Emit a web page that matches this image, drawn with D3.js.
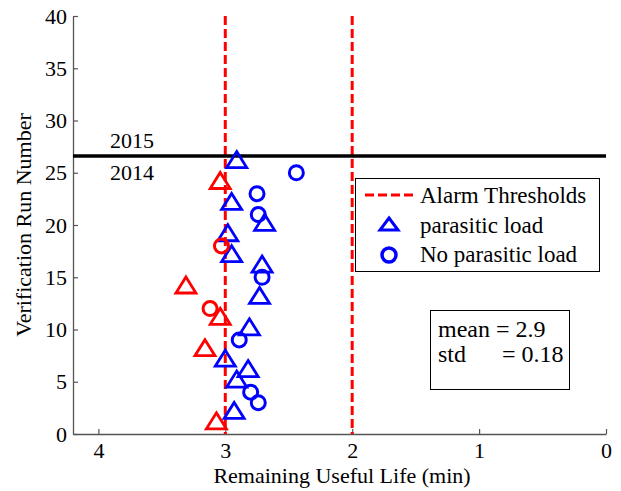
<!DOCTYPE html>
<html><head><meta charset="utf-8">
<script src="https://cdn.jsdelivr.net/npm/d3@7"></script>
</head><body style="margin:0;background:#fff"><svg id="c" width="621" height="491"></svg>
<script>
// Data
const redTriangles = [[3.07,1],[3.16,8],[3.04,11],[3.31,14],[3.04,24]];
const redCircles = [[3.12,12],[3.03,18]];
const blueTriangles = [[2.93,2],[2.91,5],[2.82,6],[3.0,7],[2.81,10],[2.73,13],[2.71,16],[2.95,17],[2.98,19],[2.69,20],[2.95,22],[2.91,26]];
const blueCircles = [[2.74,3],[2.80,4],[2.89,9],[2.71,15],[2.74,21],[2.75,23],[2.44,25]];
const thresholds = [3, 2];
const yearDivide = 26.6;
const xTicks = [4,3,2,1,0];
const yTicks = [0,5,10,15,20,25,30,35,40];
const legendLabels = ["Alarm Thresholds","parasitic load","No parasitic load"];
const statsLines = ["mean = 2.9","std      = 0.18"];

const FONT = "'Liberation Serif'";
const svg = d3.select("#c");
const L=73,R=606,T=16,B=434;
const x = d3.scaleLinear().domain([4.2,0]).range([L,R]);
const y = d3.scaleLinear().domain([0,40]).range([B,T]);
const FS = 22, LFS = 23, SFS = 24;

// axes
const xa = svg.append("g").attr("transform",`translate(0,${B})`)
  .call(d3.axisBottom(x).tickValues(xTicks).tickFormat(d3.format("d")).tickSize(-5).tickPadding(8).tickSizeOuter(0));
const ya = svg.append("g").attr("transform",`translate(${L},0)`)
  .call(d3.axisLeft(y).tickValues(yTicks).tickFormat(d3.format("d")).tickSize(-5).tickPadding(6).tickSizeOuter(0));
[xa,ya].forEach(a=>{a.attr("font-family",null).attr("font-size",null);
  a.select(".domain").attr("stroke","#555").attr("stroke-width",1.3);
  a.selectAll(".tick line").attr("stroke","#555").attr("stroke-width",1.2);
  a.selectAll(".tick text").attr("font-size",FS).style("font-family",FONT).attr("fill","#000");});
xa.selectAll(".tick text").attr("dy","0.71em");

function txt(sel,fs){return sel.style("font-family",FONT).attr("font-size",fs||FS).attr("fill","#000");}
txt(svg.append("text").attr("x",342).attr("y",483).attr("text-anchor","middle")).text("Remaining Useful Life (min)");
txt(svg.append("text").attr("transform",`translate(31,225) rotate(-90)`).attr("text-anchor","middle")).text("Verification Run Number");

// thresholds
svg.selectAll(".thr").data(thresholds).enter().append("line")
  .attr("x1",d=>x(d)).attr("x2",d=>x(d)).attr("y1",y(40)).attr("y2",y(0))
  .attr("stroke","#ff0000").attr("stroke-width",3).attr("stroke-dasharray","9,4");

// year divide
svg.append("line").attr("x1",L).attr("x2",R).attr("y1",y(yearDivide)).attr("y2",y(yearDivide))
  .attr("stroke","#000").attr("stroke-width",3.5);
txt(svg.append("text").attr("x",110).attr("y",148)).text("2015");
txt(svg.append("text").attr("x",110).attr("y",180)).text("2014");

const tri = "M0,-10.7L10,5.3L-10,5.3Z";
function drawTri(data,col){
  svg.selectAll(null).data(data).enter().append("path").attr("d",tri)
   .attr("transform",d=>`translate(${x(d[0])},${y(d[1])})`)
   .attr("fill","none").attr("stroke",col).attr("stroke-width",2.8);
}
function drawCirc(data,col){
  svg.selectAll(null).data(data).enter().append("circle")
   .attr("cx",d=>x(d[0])).attr("cy",d=>y(d[1])).attr("r",7)
   .attr("fill","none").attr("stroke",col).attr("stroke-width",3);
}
drawTri(blueTriangles,"#0000ff");
drawCirc(blueCircles,"#0000ff");
drawTri(redTriangles,"#ff0000");
drawCirc(redCircles,"#ff0000");

// legend
const lg = svg.append("g");
lg.append("rect").attr("x",355.5).attr("y",178.5).attr("width",244).attr("height",93).attr("fill","#fff").attr("stroke","#000").attr("stroke-width",1);
lg.append("line").attr("x1",365).attr("x2",415).attr("y1",195).attr("y2",195).attr("stroke","#ff0000").attr("stroke-width",3).attr("stroke-dasharray","9,4");
lg.append("path").attr("d","M0,-8L9,4L-9,4Z").attr("transform","translate(389,226)").attr("fill","none").attr("stroke","#0000ff").attr("stroke-width",3);
lg.append("circle").attr("cx",389).attr("cy",255).attr("r",7).attr("fill","none").attr("stroke","#0000ff").attr("stroke-width",3.5);
lg.selectAll("text.l").data(legendLabels).enter().append("text")
  .attr("x",420).attr("y",(d,i)=>[203,233,262][i]).style("font-family",FONT).attr("font-size",LFS).attr("fill","#000").text(d=>d);

// stats box
svg.append("rect").attr("x",430.5).attr("y",310.5).attr("width",139).attr("height",79).attr("fill","#fff").attr("stroke","#000").attr("stroke-width",1);
svg.selectAll("text.s").data(statsLines).enter().append("text")
  .attr("x",438).attr("y",(d,i)=>337+i*25).style("font-family",FONT).attr("font-size",SFS).attr("fill","#000").style("white-space","pre").text(d=>d);
</script></body></html>
